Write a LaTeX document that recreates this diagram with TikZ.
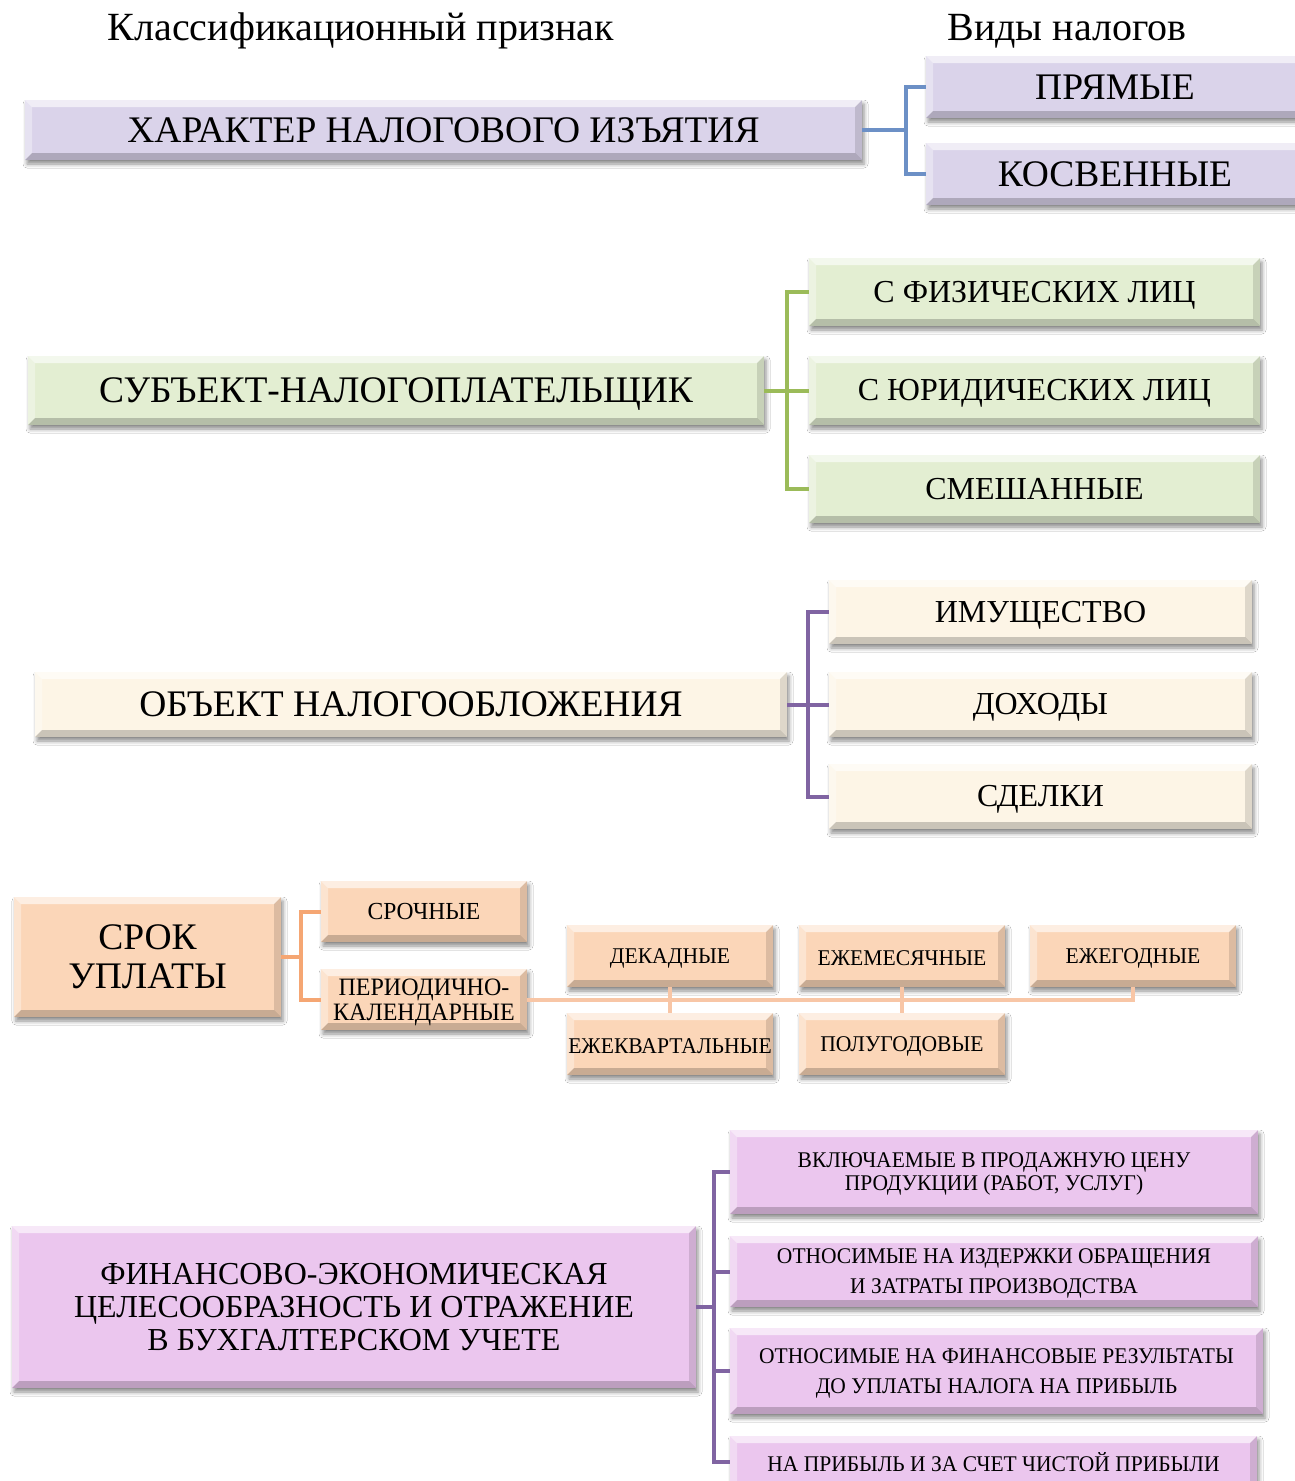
\documentclass[tikz,border=0pt]{standalone}
\usepackage{fontspec}
\setmainfont{Liberation Serif}
\newfontfamily\narrowserif[FakeStretch=0.96]{Liberation Serif}
\usetikzlibrary{shadows.blur}

\definecolor{lavender}{HTML}{DAD3EA}
\definecolor{palegreen}{HTML}{E3EED2}
\definecolor{cream}{HTML}{FDF5E6}
\definecolor{peach}{HTML}{FBD6B8}
\definecolor{orchid}{HTML}{EBC6EE}
\definecolor{lineblue}{HTML}{6C90C6}
\definecolor{linegreen}{HTML}{9BBB59}
\definecolor{linepurple}{HTML}{8064A2}
\definecolor{lineorange}{HTML}{F5A673}
\definecolor{linelightorange}{HTML}{F8C6A6}

\newlength{\bevw}
\setlength{\bevw}{7pt}
% invisible strut that lowers a label slightly inside its box
\newcommand{\lowr}{\rule{0pt}{0.86em}}

\tikzset{
  bevelbox/.style={rectangle, inner sep=0pt, align=center, fill=#1,
    blur shadow={shadow xshift=2pt, shadow yshift=-4pt,
      shadow blur radius=4pt, shadow opacity=45},
    path picture={
      \path (path picture bounding box.north west) coordinate (pnw)
            (path picture bounding box.south east) coordinate (pse)
            (pnw -| pse) coordinate (pne)
            (pse -| pnw) coordinate (psw);
      % top face
      \fill[white, opacity=0.6] (pnw) -- (pne) -- ([shift={(-\bevw,-\bevw)}]pne)
        -- ([shift={(\bevw,-\bevw)}]pnw) -- cycle;
      % left face
      \fill[white, opacity=0.35] (pnw) -- ([shift={(\bevw,-\bevw)}]pnw)
        -- ([shift={(\bevw,\bevw)}]psw) -- (psw) -- cycle;
      % bottom face
      \fill[black, opacity=0.2] (psw) -- (pse) -- ([shift={(-\bevw,\bevw)}]pse)
        -- ([shift={(\bevw,\bevw)}]psw) -- cycle;
      % right face
      \fill[black, opacity=0.12] (pne) -- (pse) -- ([shift={(-\bevw,\bevw)}]pse)
        -- ([shift={(-\bevw,-\bevw)}]pne) -- cycle;
    }},
  bigtext/.style={font=\fontsize{37.5}{40}\selectfont},
  midtext/.style={font=\fontsize{32}{36}\selectfont},
  tinytext/.style={font=\narrowserif\fontsize{22.5}{30}\selectfont},
  pinktext/.style={font=\narrowserif\fontsize{22.4}{30}\selectfont},
  link/.style={line width=4pt, draw=#1},
  header/.style={font=\fontsize{40}{44}\selectfont},
}

% name, x1, y1, x2, y2, style, text
\newcommand{\bvbox}[7]{%
  \node[#6, minimum width={(#4-#2)*1pt}, minimum height={(#5-#3)*1pt}]
    (#1) at ({(#2+#4)/2},{(#3+#5)/2}) {#7};}

\begin{document}
\begin{tikzpicture}[x=1pt, y=-1pt]
\useasboundingbox[fill=white] (0,0) rectangle (1295,1481);

% column headings
\node[header] (hcrit) at (361,31) {Классификационный признак};
\node[header] (htype) at (1067,31) {Виды налогов};

% --- character of withdrawal
\bvbox{char}{25}{100}{862}{160}{bevelbox=lavender, bigtext}{ХАРАКТЕР НАЛОГОВОГО ИЗЪЯТИЯ}
\bvbox{direct}{926}{56}{1310}{118}{bevelbox=lavender, bigtext}{\hspace*{-6pt}ПРЯМЫЕ}
\bvbox{indirect}{926}{143}{1310}{205}{bevelbox=lavender, bigtext}{\hspace*{-6pt}КОСВЕННЫЕ}
\draw[link=lineblue] (char.east) -- ++(44,0) |- (direct.west);
\draw[link=lineblue] (char.east) -- ++(44,0) |- (indirect.west);

% --- taxpayer
\bvbox{subj}{28}{356}{764}{425}{bevelbox=palegreen, bigtext}{\lowr СУБЪЕКТ-НАЛОГОПЛАТЕЛЬЩИК}
\bvbox{phys}{809}{258}{1260}{326}{bevelbox=palegreen, midtext}{\lowr С ФИЗИЧЕСКИХ ЛИЦ}
\bvbox{jur}{809}{356}{1260}{425}{bevelbox=palegreen, midtext}{\lowr С ЮРИДИЧЕСКИХ ЛИЦ}
\bvbox{mixed}{809}{455}{1260}{523}{bevelbox=palegreen, midtext}{СМЕШАННЫЕ}
\draw[link=linegreen] (subj.east) -- ++(23,0) |- (phys.west);
\draw[link=linegreen] (subj.east) -- (jur.west);
\draw[link=linegreen] (subj.east) -- ++(23,0) |- (mixed.west);

% --- object of taxation
\bvbox{obj}{35}{672}{787}{737}{bevelbox=cream, bigtext}{ОБЪЕКТ НАЛОГООБЛОЖЕНИЯ}
\bvbox{prop}{829}{580}{1252}{644}{bevelbox=cream, midtext}{\lowr ИМУЩЕСТВО}
\bvbox{inc}{829}{672}{1252}{737}{bevelbox=cream, midtext}{\lowr ДОХОДЫ}
\bvbox{deal}{829}{764}{1252}{829}{bevelbox=cream, midtext}{\lowr СДЕЛКИ}
\draw[link=linepurple] (obj.east) -- ++(21,0) |- (prop.west);
\draw[link=linepurple] (obj.east) -- (inc.west);
\draw[link=linepurple] (obj.east) -- ++(21,0) |- (deal.west);

% --- payment term
\bvbox{term}{14}{897}{281}{1017}{bevelbox=peach, font=\fontsize{37.5}{39}\selectfont}{СРОК\\УПЛАТЫ}
\bvbox{urg}{321}{881}{527}{942}{bevelbox=peach, font=\narrowserif\fontsize{24.5}{30}\selectfont}{СРОЧНЫЕ}
\bvbox{per}{321}{969}{527}{1030}{bevelbox=peach, font=\narrowserif\fontsize{25}{25}\selectfont}{\lowr ПЕРИОДИЧНО-\\КАЛЕНДАРНЫЕ}
\bvbox{dek}{567}{925}{773}{987}{bevelbox=peach, tinytext}{\lowr ДЕКАДНЫЕ}
\bvbox{mon}{799}{925}{1005}{987}{bevelbox=peach, tinytext}{\lowr ЕЖЕМЕСЯЧНЫЕ}
\bvbox{year}{1030}{925}{1236}{987}{bevelbox=peach, tinytext}{\lowr ЕЖЕГОДНЫЕ}
\bvbox{quart}{567}{1013}{773}{1075}{bevelbox=peach, tinytext}{\lowr ЕЖЕКВАРТАЛЬНЫЕ}
\bvbox{half}{799}{1013}{1005}{1075}{bevelbox=peach, tinytext}{\lowr ПОЛУГОДОВЫЕ}
\draw[link=lineorange] (term.east) -- ++(20,0) |- (urg.west);
\draw[link=lineorange] (term.east) -- ++(20,0) |- (per.west);
\draw[link=linelightorange] (per.east) -| (year.south);
\draw[link=linelightorange] (dek.south) -- (quart.north);
\draw[link=linelightorange] (mon.south) -- (half.north);

% --- financial and economic expediency
\bvbox{fin}{12}{1226}{696}{1388}{bevelbox=orchid, font=\fontsize{32}{33}\selectfont}{ФИНАНСОВО-ЭКОНОМИЧЕСКАЯ\\ЦЕЛЕСООБРАЗНОСТЬ И ОТРАЖЕНИЕ\\В БУХГАЛТЕРСКОМ УЧЕТЕ}
\bvbox{price}{730}{1130}{1258}{1214}{bevelbox=orchid, font=\narrowserif\fontsize{22.4}{23}\selectfont}{\lowr ВКЛЮЧАЕМЫЕ В ПРОДАЖНУЮ ЦЕНУ\\ПРОДУКЦИИ (РАБОТ, УСЛУГ)}
\bvbox{cost}{730}{1236}{1258}{1307}{bevelbox=orchid, pinktext}{\lowr ОТНОСИМЫЕ НА ИЗДЕРЖКИ ОБРАЩЕНИЯ\\И ЗАТРАТЫ ПРОИЗВОДСТВА}
\bvbox{fres}{730}{1328}{1263}{1414}{bevelbox=orchid, pinktext}{\lowr ОТНОСИМЫЕ НА ФИНАНСОВЫЕ РЕЗУЛЬТАТЫ\\ДО УПЛАТЫ НАЛОГА НА ПРИБЫЛЬ}
\bvbox{prof}{730}{1436}{1257}{1488}{bevelbox=orchid, pinktext}{НА ПРИБЫЛЬ И ЗА СЧЕТ ЧИСТОЙ ПРИБЫЛИ}
\draw[link=linepurple] (fin.east) -- ++(18,0) |- (price.west);
\draw[link=linepurple] (fin.east) -- ++(18,0) |- (cost.west);
\draw[link=linepurple] (fin.east) -- ++(18,0) |- (fres.west);
\draw[link=linepurple] (fin.east) -- ++(18,0) |- (prof.west);
\end{tikzpicture}
\end{document}
